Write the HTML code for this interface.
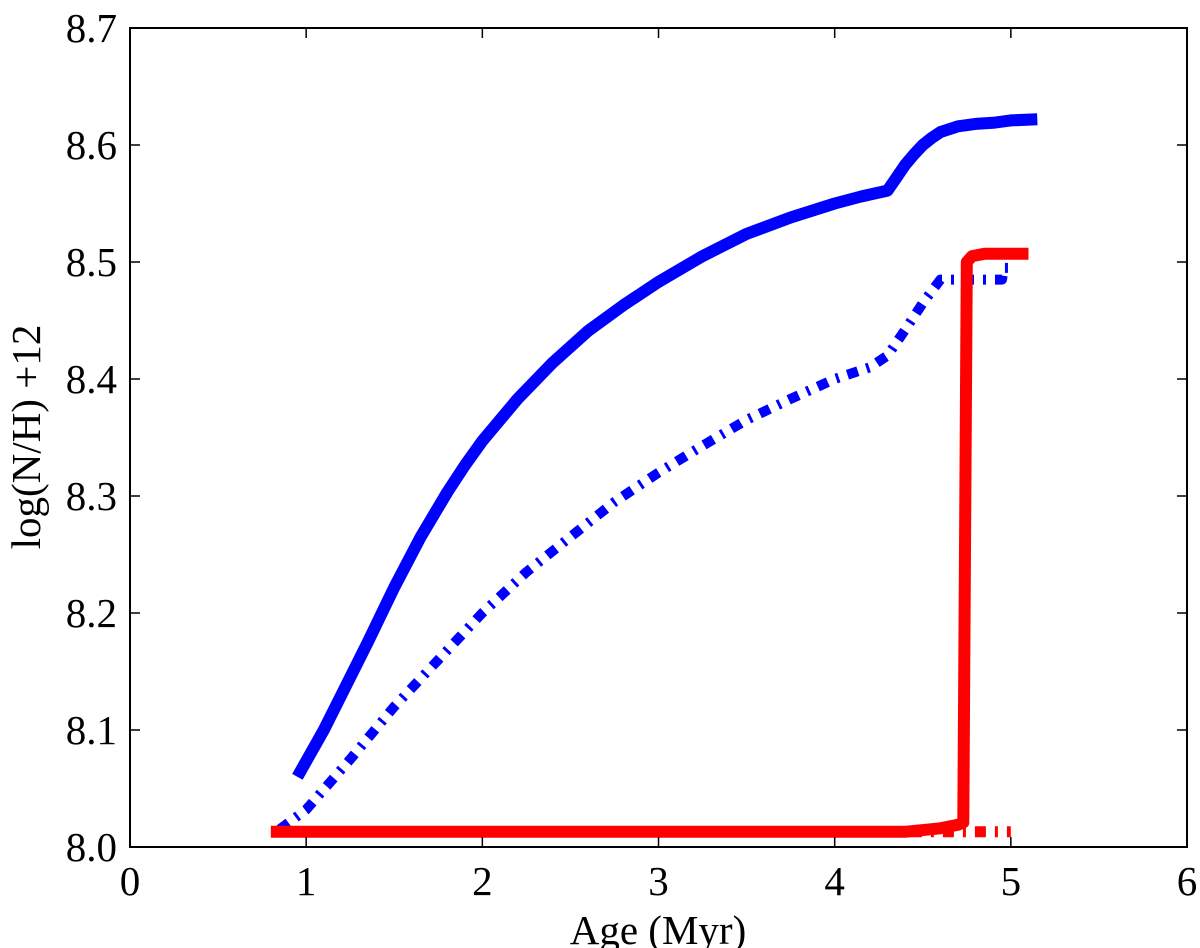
<!DOCTYPE html>
<html><head><meta charset="utf-8"><style>
html,body{margin:0;padding:0;background:#fff;}
svg{display:block;font-family:"Liberation Serif",serif;}
</style></head><body>
<svg id="chart" width="1200" height="948" viewBox="0 0 1200 948">
<g id="series"></g>
<rect x="130" y="28" width="1057" height="819" fill="none" stroke="#000" stroke-width="2"/>
<g id="axes"></g>
<text x="658" y="944" font-size="41" text-anchor="middle">Age (Myr)</text>
<text transform="translate(40,437) rotate(-90)" font-size="41" text-anchor="middle">log(N/H) +12</text>
</svg>
<script>
const xTicks=[0,1,2,3,4,5,6];
const yTicks=[8.0,8.1,8.2,8.3,8.4,8.5,8.6,8.7];
const yTickLabels=["8.0","8.1","8.2","8.3","8.4","8.5","8.6","8.7"];
const blueSolidX=[0.95,1.1,1.2,1.35,1.5,1.65,1.8,1.9,2.0,2.2,2.4,2.6,2.8,3.0,3.25,3.5,3.75,4.0,4.15,4.3,4.35,4.4,4.45,4.5,4.55,4.6,4.7,4.8,4.9,5.0,5.15];
const blueSolidY=[8.06,8.1,8.13,8.175,8.222,8.265,8.303,8.326,8.347,8.383,8.414,8.441,8.463,8.483,8.505,8.524,8.538,8.55,8.556,8.561,8.572,8.583,8.592,8.6,8.606,8.611,8.616,8.618,8.619,8.621,8.622];
const blueDashX=[0.85,1.0,1.25,1.5,1.75,2.0,2.25,2.5,2.75,3.0,3.25,3.5,3.75,4.0,4.2,4.3,4.4,4.5,4.6,4.95,4.96,5.0];
const blueDashY=[8.015,8.032,8.075,8.12,8.16,8.2,8.235,8.265,8.295,8.32,8.343,8.365,8.383,8.40,8.41,8.42,8.442,8.465,8.485,8.485,8.495,8.495];
const redSolidX=[0.8,4.4,4.6,4.7,4.73,4.75,4.78,4.85,5.1];
const redSolidY=[8.013,8.013,8.016,8.019,8.021,8.50,8.505,8.507,8.507];
const redDashX=[0.8,5.0];
const redDashY=[8.013,8.013];
const X=v=>130+v*176.17, Y=v=>847-(v-8.0)*1170;
const NS="http://www.w3.org/2000/svg";
const sg=document.getElementById('series'), ag=document.getElementById('axes');
function line(xs,ys,color,dash,name,w){
  const p=document.createElementNS(NS,'path');
  p.setAttribute('d',xs.map((x,i)=>(i?'L':'M')+X(x).toFixed(1)+' '+Y(ys[i]).toFixed(1)).join(''));
  p.setAttribute('fill','none');p.setAttribute('stroke',color);p.setAttribute('stroke-width',w);
  p.setAttribute('stroke-linejoin','round');
  if(dash)p.setAttribute('stroke-dasharray',dash);
  
  
  sg.appendChild(p);
}
line(redDashX,redDashY,'#f00','11,9,3,9','red-dashed-line',11);
line(blueDashX,blueDashY,'#00f','11,9,3,9','blue-dashed-line',10);
line(blueSolidX,blueSolidY,'#00f',null,'blue-solid-line',12);
line(redSolidX,redSolidY,'#f00',null,'red-solid-line',12);
xTicks.forEach(t=>{
  const l=document.createElementNS(NS,'path');
  l.setAttribute('d',`M${X(t)} 847v-10M${X(t)} 28v10`);l.setAttribute('stroke','#000');l.setAttribute('stroke-width','1.5');
  
  
  ag.appendChild(l);
  const tx=document.createElementNS(NS,'text');
  tx.setAttribute('x',X(t));tx.setAttribute('y',895);tx.setAttribute('font-size','41');tx.setAttribute('text-anchor','middle');
  tx.textContent=String(t);
  
  
  ag.appendChild(tx);
});
yTicks.forEach((t,i)=>{
  const l=document.createElementNS(NS,'path');
  l.setAttribute('d',`M130 ${Y(t)}h10M1187 ${Y(t)}h-10`);l.setAttribute('stroke','#000');l.setAttribute('stroke-width','1.5');
  
  
  ag.appendChild(l);
  const tx=document.createElementNS(NS,'text');
  tx.setAttribute('x',117);tx.setAttribute('y',Y(t)+14);tx.setAttribute('font-size','41');tx.setAttribute('text-anchor','end');
  tx.textContent=yTickLabels[i];
  
  
  ag.appendChild(tx);
});
</script>
</body></html>
